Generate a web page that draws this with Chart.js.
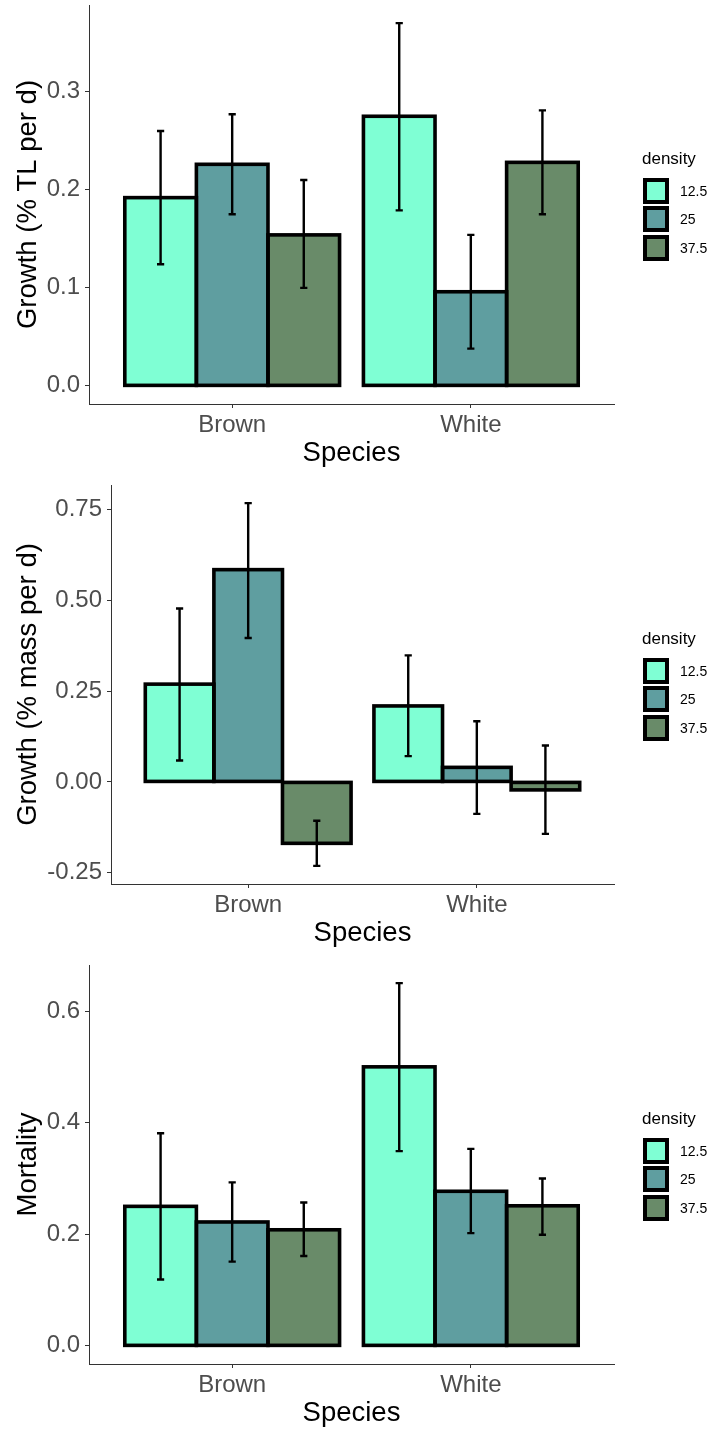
<!DOCTYPE html>
<html>
<head>
<meta charset="utf-8">
<script src="https://cdn.jsdelivr.net/npm/chart.js@4.4.0/dist/chart.umd.min.js"></script>
<style>
html,body{margin:0;padding:0;background:#fff;overflow:hidden}
#wrap{position:relative;width:712px;height:1431px}
.panel{position:absolute;left:0;width:712px;height:471px}
.panel canvas{position:absolute;left:0;top:0}
.legend{position:absolute;left:642px;font-family:'Liberation Sans',Arial,sans-serif;color:#000}
.legend .ttl{font-size:17px;line-height:20px;height:20px;margin-bottom:9px;white-space:nowrap}
.legend .row{position:relative;height:28.5px}
.legend .key{position:absolute;left:1px;top:0;width:26px;height:26px;box-sizing:border-box;border:4px solid #000}
.legend .lab{position:absolute;left:38px;top:0;line-height:26px;font-size:14px;white-space:nowrap}
</style>
</head>
<body>
<div id="wrap">
  <div class="panel" style="top:0px"><canvas id="c1" width="712" height="471"></canvas><div class="legend" id="l1"></div></div>
  <div class="panel" style="top:480px"><canvas id="c2" width="712" height="471"></canvas><div class="legend" id="l2"></div></div>
  <div class="panel" style="top:960px"><canvas id="c3" width="712" height="471"></canvas><div class="legend" id="l3"></div></div>
</div>
<script>
// ---------- data ----------
const species = ['Brown', 'White'];
const densityLevels = ['12.5', '25', '37.5'];
const densityColors = ['#7FFFD4', '#5F9EA0', '#698B69'];

// Panel 1: Growth (% TL per d)
const tlMean125 = [0.192, 0.275];
const tlMean25  = [0.226, 0.096];
const tlMean375 = [0.154, 0.228];
const tlLow125  = [0.124, 0.179];
const tlHigh125 = [0.260, 0.370];
const tlLow25   = [0.175, 0.038];
const tlHigh25  = [0.277, 0.154];
const tlLow375  = [0.100, 0.175];
const tlHigh375 = [0.210, 0.281];
const tlTicks   = [0, 0.1, 0.2, 0.3];

// Panel 2: Growth (% mass per d)
const massMean125 = [0.269, 0.209];
const massMean25  = [0.584, 0.040];
const massMean375 = [-0.169, -0.022];
const massLow125  = [0.059, 0.071];
const massHigh125 = [0.477, 0.348];
const massLow25   = [0.396, -0.088];
const massHigh25  = [0.767, 0.167];
const massLow375  = [-0.231, -0.143];
const massHigh375 = [-0.107, 0.100];
const massTicks   = [-0.25, 0, 0.25, 0.5, 0.75];

// Panel 3: Mortality
const mortMean125 = [0.250, 0.500];
const mortMean25  = [0.222, 0.277];
const mortMean375 = [0.208, 0.251];
const mortLow125  = [0.119, 0.349];
const mortHigh125 = [0.381, 0.650];
const mortLow25   = [0.151, 0.202];
const mortHigh25  = [0.293, 0.353];
const mortLow375  = [0.161, 0.199];
const mortHigh375 = [0.257, 0.300];
const mortTicks   = [0, 0.2, 0.4, 0.6];

// ---------- styling ----------
const FONT = "'Liberation Sans', Arial, sans-serif";
const TICK_COLOR = '#4D4D4D';
const AXIS_COLOR = '#333333';

// outline + error bars drawn from the library's bar elements and scales
const barDecor = {
  id: 'barDecor',
  afterDatasetsDraw(chart) {
    const ctx = chart.ctx;
    const yScale = chart.scales.y;
    ctx.save();
    chart.data.datasets.forEach((ds, di) => {
      const meta = chart.getDatasetMeta(di);
      meta.data.forEach((el) => {
        const p = el.getProps(['x', 'y', 'base', 'width'], true);
        const left = p.x - p.width / 2;
        const top = Math.min(p.y, p.base);
        const h = Math.abs(p.y - p.base);
        ctx.lineWidth = 3.6;
        ctx.strokeStyle = '#000';
        ctx.lineJoin = 'miter';
        ctx.strokeRect(left, top, p.width, h);
      });
    });
    chart.data.datasets.forEach((ds, di) => {
      const meta = chart.getDatasetMeta(di);
      meta.data.forEach((el, i) => {
        const x = el.getProps(['x'], true).x;
        const yl = yScale.getPixelForValue(ds.errLow[i]);
        const yh = yScale.getPixelForValue(ds.errHigh[i]);
        const cap = 3.6;
        ctx.lineWidth = 2.4;
        ctx.strokeStyle = '#000';
        ctx.lineCap = 'butt';
        ctx.beginPath();
        ctx.moveTo(x, yl); ctx.lineTo(x, yh);
        ctx.moveTo(x - cap, yl); ctx.lineTo(x + cap, yl);
        ctx.moveTo(x - cap, yh); ctx.lineTo(x + cap, yh);
        ctx.stroke();
      });
    });
    ctx.restore();
  }
};

function buildLegend(id, chart) {
  const el = document.getElementById(id);
  let html = '<div class="ttl">density</div>';
  densityLevels.forEach((d, k) => {
    html += '<div class="row"><div class="key" style="background:' + densityColors[k] + '"></div><div class="lab">' + d + '</div></div>';
  });
  el.innerHTML = html;
  const ca = chart.chartArea;
  const center = (ca.top + ca.bottom) / 2;
  el.style.top = (center - 56) + 'px';
}

function makePanel(canvasId, legendId, yTitle, means, lows, highs, ticks, decimals, yAxisWidth) {
  const all = [0].concat(...lows, ...highs);
  const lo = Math.min(...all), hi = Math.max(...all);
  const pad = (hi - lo) * 0.05;
  const datasets = densityLevels.map((d, k) => ({
    label: d,
    data: species.map((s, i) => ({ x: i + 1, y: means[k][i] })),
    backgroundColor: densityColors[k],
    borderWidth: 0,
    inflateAmount: 0.4,
    errLow: lows[k],
    errHigh: highs[k]
  }));
  const chart = new Chart(document.getElementById(canvasId), {
    type: 'bar',
    data: { datasets },
    plugins: [barDecor],
    options: {
      responsive: false,
      animation: false,
      events: [],
      categoryPercentage: 0.9,
      barPercentage: 1.0,
      layout: { padding: { left: 0, right: 98, top: 5, bottom: 0 } },
      plugins: { legend: { display: false }, tooltip: { enabled: false } },
      scales: {
        x: {
          type: 'linear',
          min: 0.4, max: 2.6,
          offset: false,
          bounds: 'data',
          grid: { display: true, offset: false, drawOnChartArea: false, drawTicks: true, tickLength: 4, color: AXIS_COLOR, lineWidth: 1 },
          border: { display: true, color: AXIS_COLOR, width: 1 },
          afterBuildTicks: (s) => { s.ticks = species.map((n, i) => ({ value: i + 1 })); },
          ticks: {
            autoSkip: false, maxRotation: 0, minRotation: 0,
            padding: 3,
            color: TICK_COLOR,
            font: { family: FONT, size: 24 },
            callback: (v) => species[Math.round(v) - 1]
          },
          title: { display: true, text: 'Species', color: '#000', font: { family: FONT, size: 27.5 }, padding: { top: 0, bottom: 1 } },
          afterFit: (s) => { s.height = 67; s.paddingLeft = 0; s.paddingRight = 0; }
        },
        y: {
          type: 'linear',
          min: lo - pad, max: hi + pad,
          bounds: 'data',
          grid: { display: true, drawOnChartArea: false, drawTicks: true, tickLength: 4, color: AXIS_COLOR, lineWidth: 1 },
          border: { display: true, color: AXIS_COLOR, width: 1 },
          afterBuildTicks: (s) => { s.ticks = ticks.map((v) => ({ value: v })); },
          ticks: {
            autoSkip: false,
            padding: 5,
            color: TICK_COLOR,
            font: { family: FONT, size: 24 },
            callback: (v) => Number(v).toFixed(decimals)
          },
          title: { display: true, text: yTitle, color: '#000', font: { family: FONT, size: 27.5 }, padding: { top: 11.5, bottom: 0 } },
          afterFit: (s) => { s.width = yAxisWidth; s.paddingTop = 0; s.paddingBottom = 0; }
        }
      }
    }
  });
  buildLegend(legendId, chart);
  return chart;
}

makePanel('c1', 'l1', 'Growth (% TL per d)',
  [tlMean125, tlMean25, tlMean375], [tlLow125, tlLow25, tlLow375], [tlHigh125, tlHigh25, tlHigh375],
  tlTicks, 1, 89);
makePanel('c2', 'l2', 'Growth (% mass per d)',
  [massMean125, massMean25, massMean375], [massLow125, massLow25, massLow375], [massHigh125, massHigh25, massHigh375],
  massTicks, 2, 111);
makePanel('c3', 'l3', 'Mortality',
  [mortMean125, mortMean25, mortMean375], [mortLow125, mortLow25, mortLow375], [mortHigh125, mortHigh25, mortHigh375],
  mortTicks, 1, 89);
</script>
</body>
</html>
